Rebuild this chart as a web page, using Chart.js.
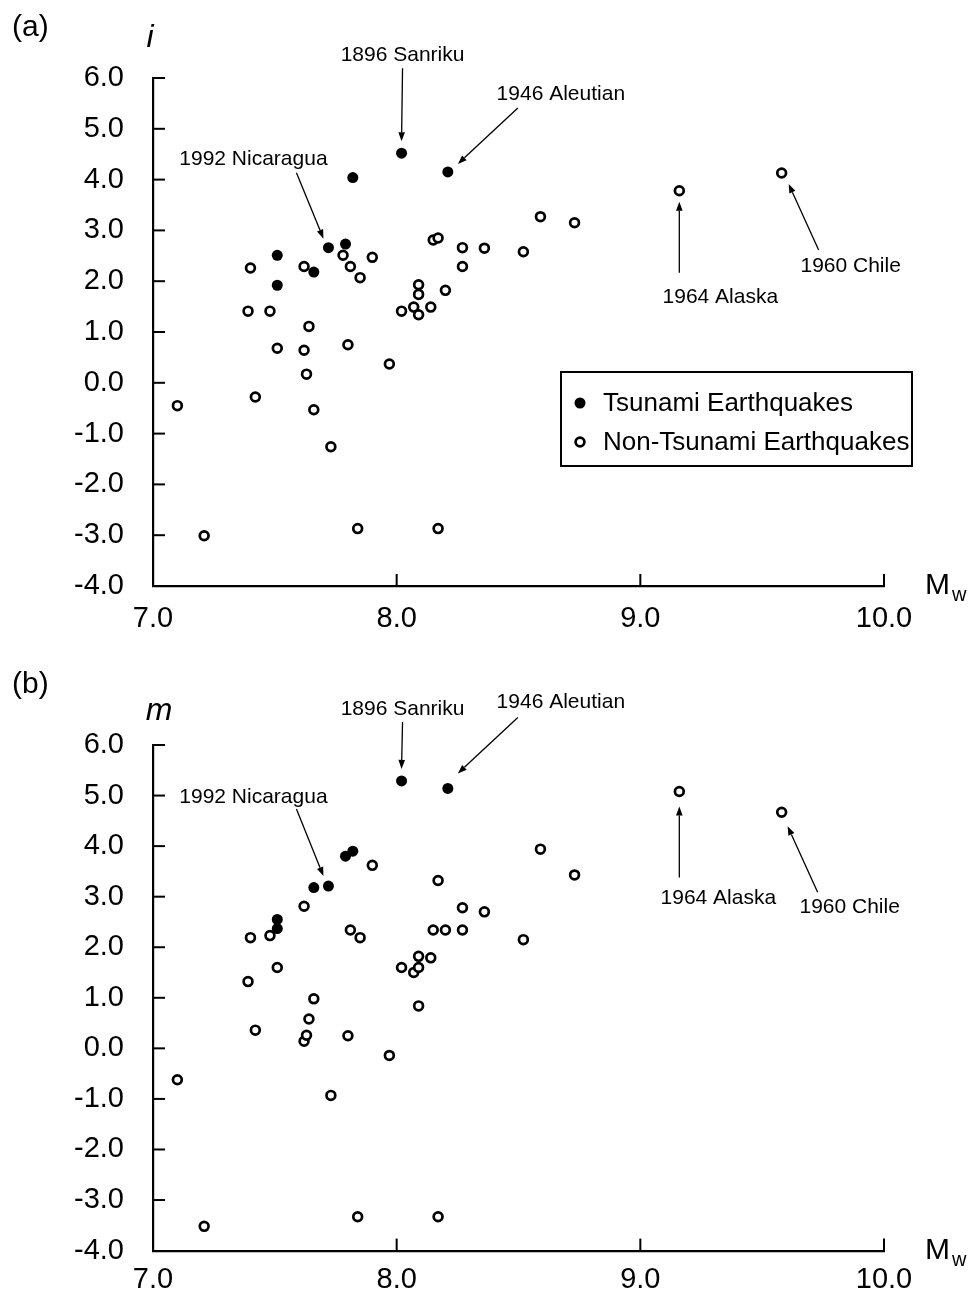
<!DOCTYPE html>
<html>
<head>
<meta charset="utf-8">
<title>Tsunami and non-tsunami earthquakes: i and m against Mw</title>
<script src="https://cdn.jsdelivr.net/npm/chart.js"></script>
<style>
    body {
        margin: 0;
        background: #fff;
    }
    .panel {
        position: absolute;
        left: 0;
        width: 973px;
    }
    #panelA { top: 0; height: 650px; }
    #panelB { top: 650px; height: 647px; }
</style>
</head>
<body>
<div class="panel" id="panelA"><canvas id="chartA" width="973" height="650"></canvas></div>
<div class="panel" id="panelB"><canvas id="chartB" width="973" height="647"></canvas></div>

<script>
    // tsunami earthquakes (filled dots)
    var mwTsunami = [7.51, 7.51, 7.66, 7.72, 7.79, 7.82, 8.02, 8.21];
    var iTsunami  = [2.51, 1.92, 2.18, 2.66, 2.73, 4.04, 4.52, 4.15];
    var mTsunami  = [2.55, 2.37, 3.18, 3.21, 3.80, 3.90, 5.29, 5.14];

    // non-tsunami earthquakes (open circles)
    var mwOther = [7.10, 7.21, 7.39, 7.40, 7.42, 7.48, 7.51, 7.62, 7.62, 7.63,
                   7.64, 7.66, 7.73, 7.78, 7.80, 7.81, 7.84, 7.85, 7.90, 7.97,
                   8.02, 8.07, 8.09, 8.09, 8.09, 8.14, 8.15, 8.17, 8.17, 8.20,
                   8.27, 8.27, 8.36, 8.52, 8.59, 8.73, 9.16, 9.58];
    var iOther = [-0.45, -3.01, 1.41, 2.26, -0.28, 1.41, 0.68, 2.29, 0.64, 0.17,
                  1.11, -0.53, -1.26, 2.51, 0.75, 2.29, -2.87, 2.07, 2.47, 0.37,
                  1.41, 1.49, 1.93, 1.74, 1.34, 1.49, 2.81, -2.87, 2.85, 1.82,
                  2.66, 2.29, 2.65, 2.58, 3.27, 3.15, 3.78, 4.13];
    var mOther = [-0.62, -3.52, 1.32, 2.19, 0.36, 2.23, 1.60, 2.81, 0.14, 0.26,
                  0.58, 0.98, -0.93, null, 0.25, 2.34, -3.33, 2.19, 3.62, -0.14,
                  1.60, 1.50, 1.82, 1.60, 0.84, 1.79, 2.34, -3.33, 3.32, 2.34,
                  2.78, 2.34, 2.70, 2.15, 3.94, 3.43, 5.08, 4.67];

    var xTicks = [7, 8, 9, 10];
    var yTicks = [-4, -3, -2, -1, 0, 1, 2, 3, 4, 5, 6];
    var legendLabels = ["Tsunami Earthquakes", "Non-Tsunami Earthquakes"];

    Chart.defaults.font.family = "'Liberation Sans', Arial, Helvetica, sans-serif";
    Chart.defaults.color = "#000";

    function drawArrow(ctx, x0, y0, x1, y1) {
        var a = Math.atan2(y1 - y0, x1 - x0);
        var head = 9, half = 3.3;
        var bx = x1 - head * Math.cos(a), by = y1 - head * Math.sin(a);
        ctx.beginPath();
        ctx.moveTo(x0, y0);
        ctx.lineTo(bx, by);
        ctx.stroke();
        ctx.beginPath();
        ctx.moveTo(x1, y1);
        ctx.lineTo(bx + half * Math.sin(a), by - half * Math.cos(a));
        ctx.lineTo(bx - half * Math.sin(a), by + half * Math.cos(a));
        ctx.closePath();
        ctx.fill();
    }

    var decor = {
        id: "decor",
        afterDraw: function (chart, args, opts) {
            var ctx = chart.ctx, xs = chart.scales.x, ys = chart.scales.y, ca = chart.chartArea;
            var font = Chart.defaults.font.family;
            ctx.save();
            ctx.strokeStyle = "#000";
            ctx.fillStyle = "#000";

            // inward tick marks
            ctx.lineWidth = 2;
            xs.ticks.forEach(function (t) {
                if (t.value === xs.min) return;
                var px = xs.getPixelForValue(t.value);
                ctx.beginPath(); ctx.moveTo(px, ca.bottom); ctx.lineTo(px, ca.bottom - 12); ctx.stroke();
            });
            ys.ticks.forEach(function (t) {
                if (t.value === ys.min) return;
                var py = ys.getPixelForValue(t.value);
                ctx.beginPath(); ctx.moveTo(ca.left, py); ctx.lineTo(ca.left + 12, py); ctx.stroke();
            });

            // panel letter, axis names
            ctx.textBaseline = "middle";
            ctx.textAlign = "left";
            ctx.font = "30px " + font;
            ctx.fillText(opts.panel, 12, opts.panelY);
            ctx.font = "italic 32px " + font;
            ctx.textAlign = "center";
            ctx.textBaseline = "alphabetic";
            ctx.fillText(opts.yName, ca.left + opts.yNameDx, ca.top + opts.yNameDy);
            ctx.textAlign = "left";
            ctx.font = "30px " + font;
            ctx.fillText("M", ca.right + 41, ca.bottom + 8);
            ctx.font = "20px " + font;
            ctx.fillText("w", ca.right + 68, ca.bottom + 15);

            // call-outs
            ctx.lineWidth = 1.3;
            ctx.font = "21px " + font;
            ctx.textAlign = "center";
            ctx.textBaseline = "middle";
            opts.callouts.forEach(function (c) {
                var p = chart.getDatasetMeta(c.set).data[c.idx];
                ctx.fillText(c.text, p.x + c.label[0], p.y + c.label[1]);
                drawArrow(ctx, p.x + c.tail[0], p.y + c.tail[1], p.x + c.tip[0], p.y + c.tip[1]);
            });

            // legend box
            if (opts.legend) {
                var L = opts.legend;
                ctx.lineWidth = 2;
                ctx.strokeRect(L.x, L.y, L.w, L.h);
                ctx.font = "26px " + font;
                ctx.textAlign = "left";
                chart.data.datasets.forEach(function (ds, k) {
                    var cy = L.y + L.rows[k];
                    ctx.beginPath();
                    ctx.arc(L.x + 19, cy, ds.pointRadius, 0, Math.PI * 2);
                    ctx.fillStyle = ds.pointBackgroundColor;
                    ctx.fill();
                    if (ds.pointBorderWidth) {
                        ctx.lineWidth = ds.pointBorderWidth;
                        ctx.strokeStyle = ds.pointBorderColor;
                        ctx.stroke();
                    }
                    ctx.fillStyle = "#000";
                    ctx.fillText(ds.label, L.x + 42, cy + 1);
                });
            }
            ctx.restore();
        }
    };

    function makePanel(canvasId, tsunamiY, otherY, cfg) {
        var tsunamiPts = mwTsunami.map(function (x, k) { return { x: x, y: tsunamiY[k] }; });
        var otherPts = mwOther.map(function (x, k) { return { x: x, y: otherY[k] }; });
        return new Chart(document.getElementById(canvasId), {
            type: "scatter",
            data: {
                datasets: [
                    { label: legendLabels[0], data: tsunamiPts, pointRadius: 5.5,
                      pointBackgroundColor: "#000", pointBorderColor: "#000", pointBorderWidth: 0, order: 0 },
                    { label: legendLabels[1], data: otherPts, pointRadius: 4.4,
                      pointBackgroundColor: "#fff", pointBorderColor: "#000", pointBorderWidth: 2.7, order: 1 }
                ]
            },
            options: {
                responsive: false,
                animation: false,
                devicePixelRatio: 1,
                layout: { padding: { left: 0, right: 89, top: cfg.top, bottom: 0 } },
                plugins: { legend: { display: false }, tooltip: { enabled: false }, decor: cfg },
                scales: {
                    x: {
                        type: "linear", min: 7, max: 10,
                        afterBuildTicks: function (s) { s.ticks = xTicks.map(function (v) { return { value: v }; }); },
                        afterFit: function (s) { s.height = cfg.xHeight; },
                        grid: { display: false, drawTicks: false },
                        border: { display: true, color: "#000", width: 2.2 },
                        ticks: { padding: cfg.xPad, maxRotation: 0, autoSkip: false, font: { size: 29 },
                                 callback: function (v) { return v.toFixed(1); } }
                    },
                    y: {
                        type: "linear", min: -4, max: 6,
                        afterBuildTicks: function (s) { s.ticks = yTicks.map(function (v) { return { value: v }; }); },
                        afterFit: function (s) { s.width = 153; },
                        grid: { display: false, drawTicks: false },
                        border: { display: true, color: "#000", width: 2.2 },
                        ticks: { padding: 29, autoSkip: false, font: { size: 29 },
                                 callback: function (v) { return v.toFixed(1); } }
                    }
                }
            },
            plugins: [decor]
        });
    }

    makePanel("chartA", iTsunami, iOther, {
        top: 78, xHeight: 64, xPad: 16,
        panel: "(a)", panelY: 28, yName: "i", yNameDx: -3, yNameDy: -31,
        callouts: [
            { text: "1896 Sanriku",   set: 0, idx: 6,  label: [1, -98],  tail: [1, -85],  tip: [0, -12] },
            { text: "1946 Aleutian",  set: 0, idx: 7,  label: [113, -78], tail: [70, -64], tip: [10, -8] },
            { text: "1992 Nicaragua", set: 0, idx: 3,  label: [-75, -88], tail: [-32, -75], tip: [-5, -9] },
            { text: "1964 Alaska",    set: 1, idx: 36, label: [41, 106],  tail: [0, 82],    tip: [0, 11] },
            { text: "1960 Chile",     set: 1, idx: 37, label: [69, 93],   tail: [37, 77],   tip: [7, 11] }
        ],
        legend: { x: 561, y: 372, w: 351, h: 94, rows: [31, 70] }
    });

    makePanel("chartB", mTsunami, mOther, {
        top: 95, xHeight: 44, xPad: 12,
        panel: "(b)", panelY: 35, yName: "m", yNameDx: 6, yNameDy: -25,
        callouts: [
            { text: "1896 Sanriku",   set: 0, idx: 6,  label: [1, -72],   tail: [1, -59],   tip: [0, -12] },
            { text: "1946 Aleutian",  set: 0, idx: 7,  label: [113, -86], tail: [70, -71],  tip: [10, -15] },
            { text: "1992 Nicaragua", set: 0, idx: 3,  label: [-75, -89], tail: [-32, -77], tip: [-5, -10] },
            { text: "1964 Alaska",    set: 1, idx: 36, label: [39, 107],  tail: [0, 86],    tip: [0, 15] },
            { text: "1960 Chile",     set: 1, idx: 37, label: [68, 95],   tail: [36, 80],   tip: [6, 14] }
        ]
    });
</script>
</body>
</html>
